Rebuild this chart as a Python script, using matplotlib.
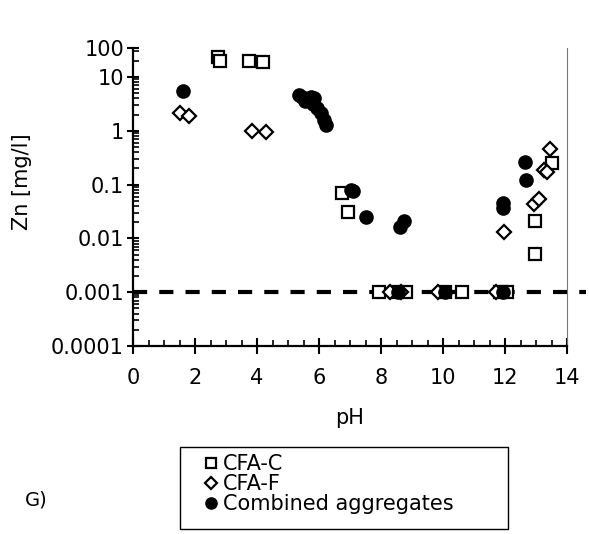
import matplotlib
matplotlib.use("Agg")
import matplotlib.pyplot as plt
import numpy as np
from matplotlib.lines import Line2D
from matplotlib.patches import Rectangle
from matplotlib.ticker import LogLocator, MultipleLocator, NullFormatter

plt.rcParams['font.family'] = ['DejaVu Sans']

# ---------------- data ----------------
cfa_c_ph = [2.75, 2.8, 3.73, 4.2, 6.74, 6.93, 7.95, 8.45, 8.8, 10.05, 10.6, 11.85, 12.05,
            12.97, 12.97, 13.5]
cfa_c_zn = [24, 20, 20, 18.6, 0.07, 0.031, 0.001, 0.001, 0.001, 0.001, 0.001, 0.001, 0.001,
            0.021, 0.0052, 0.25]

cfa_f_ph = [1.5, 1.8, 3.84, 4.28, 8.3, 8.65, 9.85, 11.7, 11.97, 12.94, 13.1, 13.26, 13.37, 13.44]
cfa_f_zn = [2.1, 1.9, 1.0, 0.93, 0.001, 0.001, 0.001, 0.001, 0.013, 0.044, 0.054, 0.19, 0.17, 0.45]

comb_ph = [1.6, 5.35, 5.45, 5.55, 5.75, 5.85, 5.8, 5.95, 6.05, 6.15, 6.22,
           7.02, 7.1, 7.52, 8.6, 8.75, 8.55, 10.05, 11.95, 11.92, 11.93, 12.67, 12.65]
comb_zn = [5.6, 4.6, 4.2, 3.6, 4.3, 4.0, 3.2, 2.6, 2.1, 1.6, 1.3,
           0.078, 0.075, 0.025, 0.016, 0.021, 0.001, 0.001, 0.001, 0.045, 0.036, 0.12, 0.26]

detection_limit = 0.001
ytick_vals = [1e-4, 1e-3, 1e-2, 1e-1, 1, 10]
ytick_labels = ['0.0001', '0.001', '0.01', '0.1', '1', '10', '100']
xtick_vals = [0, 2, 4, 6, 8, 10, 12, 14]
series_labels = ['CFA-C', 'CFA-F', 'Combined aggregates']

# ---------------- figure ----------------
W, H = 589, 534
fig = plt.figure(figsize=(W / 100, H / 100), dpi=100)
ax = fig.add_axes([133 / W, 1 - 346 / H, (567 - 133) / W, (346 - 48) / H])

ytop = 10 ** 1.539
ax.set_yscale('log')
ax.set_ylim(1e-4, ytop)
ax.set_xlim(0, 14)

ax.plot([0, 14.6], [detection_limit, detection_limit], color='black', lw=3,
        dashes=(3.4, 2.9), clip_on=False, zorder=1)

sq_kw = dict(marker='s', ms=9, mfc='white', mec='black', mew=1.6, ls='none')
di_kw = dict(marker='D', ms=6.8, mfc='white', mec='black', mew=1.6, ls='none')
ci_kw = dict(marker='o', ms=9.5, mfc='black', mec='black', mew=1, ls='none')

ax.plot(cfa_c_ph, cfa_c_zn, zorder=3, **sq_kw)
ax.plot(cfa_f_ph, cfa_f_zn, zorder=4, **di_kw)
ax.plot(comb_ph, comb_zn, zorder=5, **ci_kw)

# ticks
ax.set_yticks(ytick_vals + [ytop])
ax.set_yticklabels(ytick_labels)
ax.yaxis.set_minor_locator(LogLocator(base=10, subs=np.arange(2, 10), numticks=20))
ax.yaxis.set_minor_formatter(NullFormatter())
ax.set_xticks(xtick_vals)
ax.xaxis.set_minor_locator(MultipleLocator(0.5))

ax.tick_params(axis='both', which='major', direction='inout', width=1.5, color='black',
               labelsize=15)
ax.tick_params(axis='x', which='major', length=12, pad=10)
ax.tick_params(axis='y', which='major', length=9, pad=2)
ax.tick_params(axis='both', which='minor', direction='in', width=1.2, length=4)

for s in ['left', 'bottom']:
    ax.spines[s].set_linewidth(1.6)
ax.spines['top'].set_visible(False)
ax.spines['right'].set_color('#777777')
ax.spines['right'].set_linewidth(0.8)

ax.set_xlabel('pH', fontsize=15, labelpad=14)
ax.set_ylabel('Zn [mg/l]', fontsize=15)
ax.yaxis.set_label_coords((32 - 133) / 434, (346 - 182) / 298)

# legend
handles = [Line2D([], [], **sq_kw), Line2D([], [], **di_kw), Line2D([], [], **ci_kw)]
for h in handles:
    h.set_markersize(h.get_markersize() * 0.85)
fig.legend(handles, series_labels, loc='upper left',
           bbox_to_anchor=(196 / W, 1 - 446 / H), frameon=False, fontsize=15,
           handlelength=0.6, handletextpad=0.3, labelspacing=0.0, borderaxespad=0)
fig.add_artist(Rectangle((180 / W, 1 - 529 / H), 328 / W, 82 / H, transform=fig.transFigure,
                         fill=False, lw=1.0, ec='black'))

fig.text(25 / W, 1 - 500 / H, 'G)', fontsize=14, va='center', ha='left')

fig.savefig('out.png', dpi=100)
